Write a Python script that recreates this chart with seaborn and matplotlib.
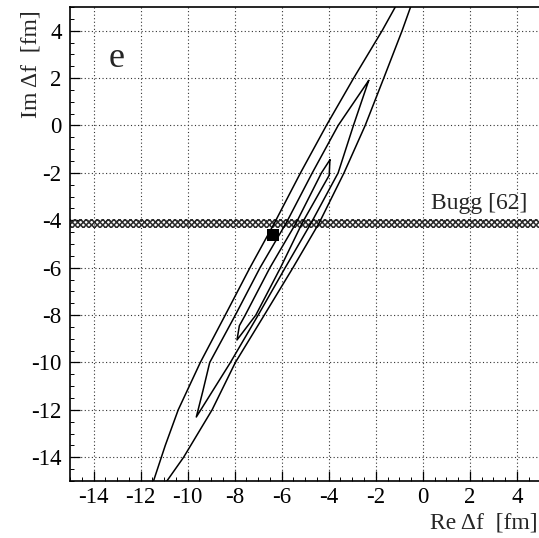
import matplotlib
matplotlib.use("Agg")
import matplotlib.pyplot as plt
import seaborn as sns
from matplotlib.ticker import MultipleLocator

# ---- data (Re Δf, Im Δf in fm) ----
# outer contour (open at top and bottom of the frame)
outer_left_y = [5.0, 4.0, 2.0, 0.0, -2.0, -4.1, -6.0, -8.0, -10.0, -12.0, -13.5, -15.0]
outer_left_x = [-1.17, -1.73, -2.94, -4.10, -5.20, -6.30, -7.35, -8.40, -9.46, -10.40, -10.95, -11.45]
outer_right_y = [5.0, 4.0, 2.0, 0.0, -2.0, -4.1, -6.0, -8.0, -10.0, -12.0, -14.0, -15.0]
outer_right_x = [-0.52, -0.88, -1.66, -2.45, -3.35, -4.40, -5.52, -6.74, -7.97, -8.96, -10.17, -10.88]

# middle contour (closed): left edge top->bottom, right edge bottom->top
middle_left_y = [1.9, 0.0, -2.0, -4.1, -6.0, -8.0, -10.0, -11.2, -12.3]
middle_left_x = [-2.30, -3.60, -4.70, -5.80, -6.92, -7.97, -9.06, -9.35, -9.63]
middle_right_y = [-12.3, -10.0, -8.0, -6.0, -4.1, -2.0, 0.0, 1.9]
middle_right_x = [-9.63, -8.18, -7.00, -5.85, -4.74, -3.60, -2.95, -2.30]

# inner contour (closed)
inner_left_y = [-1.45, -2.0, -4.1, -6.0, -8.0, -8.45, -9.05]
inner_left_x = [-3.95, -4.31, -5.38, -6.50, -7.55, -7.80, -7.90]
inner_right_y = [-9.05, -8.0, -6.0, -4.1, -2.1, -1.45]
inner_right_x = [-7.90, -7.10, -6.05, -5.12, -3.98, -3.95]

# best fit point
best_x = [-6.35]
best_y = [-4.62]

# Bugg [62] band in Im Δf
band_lo = -4.32
band_hi = -3.96

x_ticks = [-14, -12, -10, -8, -6, -4, -2, 0, 2, 4]
y_ticks = [-14, -12, -10, -8, -6, -4, -2, 0, 2, 4]

# ---- style ----
sns.set_style("ticks")
plt.rcParams["font.family"] = ["Liberation Serif", "DejaVu Serif"]
plt.rcParams["axes.unicode_minus"] = False
plt.rcParams["hatch.linewidth"] = 1.1

fig = plt.figure(figsize=(5.39, 5.38), dpi=100)
ax = fig.add_axes([0.1299, 0.106, 0.8727, 0.881])

ax.set_xlim(-15, 5)
ax.set_ylim(-15, 5)

# band
ax.axhspan(band_lo, band_hi, facecolor="none", edgecolor="#2a2a2a",
           hatch="xxxxxx", lw=0, zorder=2)

line_kw = dict(sort=False, estimator=None, color="black", linewidth=1.1, ax=ax, zorder=3)
sns.lineplot(x=outer_left_x, y=outer_left_y, **line_kw)
sns.lineplot(x=outer_right_x, y=outer_right_y, **line_kw)
sns.lineplot(x=middle_left_x + middle_right_x, y=middle_left_y + middle_right_y, **line_kw)
sns.lineplot(x=inner_left_x + inner_right_x, y=inner_left_y + inner_right_y, **line_kw)

sns.scatterplot(x=best_x, y=best_y, marker="s", s=68, color="black",
                edgecolor="black", linewidth=0, ax=ax, zorder=5)

# texts
ax.text(-13.0, 2.45, "e", fontsize=26, ha="center", va="baseline")
ax.text(4.44, -3.52, "Bugg [62]", fontsize=17, ha="right", va="baseline")

# axes decoration
ax.set_xticks(x_ticks)
ax.set_yticks(y_ticks)
ax.set_xticklabels([str(t) for t in x_ticks])
ax.set_yticklabels([str(t) for t in y_ticks])
ax.xaxis.set_minor_locator(MultipleLocator(0.5))
ax.yaxis.set_minor_locator(MultipleLocator(0.5))
ax.tick_params(which="major", direction="in", length=7, width=0.9,
               labelsize=16.5, color="black", labelcolor="black")
ax.tick_params(axis="x", which="major", pad=4)
ax.tick_params(axis="y", which="major", pad=6)
ax.tick_params(which="minor", direction="in", length=3, width=0.7, color="black")
ax.grid(True, which="major", linestyle=(0, (1, 2.2)), color="#333333", linewidth=0.8)
ax.set_axisbelow(True)

for side in ["left", "top", "bottom"]:
    ax.spines[side].set_visible(True)
    ax.spines[side].set_color("black")
    ax.spines[side].set_linewidth(1.2)
ax.spines["right"].set_visible(False)

ax.set_xlabel("")
ax.set_ylabel("")
fig.text(0.998, 0.028, "Re \u0394f  [fm]", fontsize=17, ha="right", va="center")
fig.text(0.0575, 0.981, "Im \u0394f  [fm]", fontsize=17, ha="center", va="top", rotation=90)

fig.savefig("out.png", dpi=100, facecolor="white")
